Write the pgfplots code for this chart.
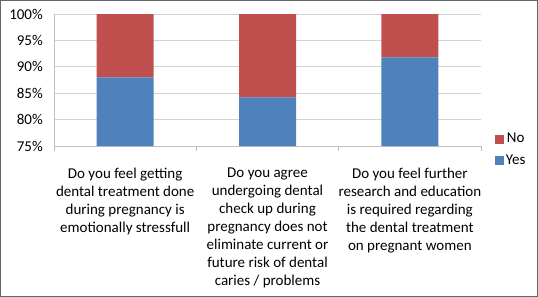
\documentclass[border=0pt]{standalone}
\usepackage{pgfplots}
\pgfplotsset{compat=1.18}
\usepackage{fontspec}
\setmainfont{Carlito}
\definecolor{cblue}{HTML}{4F81BD}
\definecolor{cred}{HTML}{C0504D}
\begin{document}
\fontsize{15}{18}\selectfont
\begin{tikzpicture}
\begin{axis}[
  scale only axis, width=427pt, height=132pt,
  anchor=south west, at={(0pt,0pt)},
  ybar stacked, bar width=57pt,
  xmin=-0.5, xmax=2.5, ymin=75, ymax=100,
  ytick={75,80,...,100},
  yticklabel={\pgfmathprintnumber{\tick}\%},
  /pgf/number format/assume math mode=true,
  xtick={0,1,2},
  xticklabels={{Do you feel getting\\dental treatment done\\during pregnancy is\\emotionally stressfull},
               {Do you agree\\undergoing dental\\check up during\\pregnancy does not\\eliminate current or\\future risk of dental\\caries / problems},
               {Do you feel further\\research and education\\is required regarding\\the dental treatment\\on pregnant women}},
  xticklabel style={align=center, anchor=north, yshift=-17pt, font=\fontsize{15}{18}\selectfont},
  yticklabel style={font=\fontsize{15}{18}\selectfont, xshift=-6pt},
  extra x ticks={-0.5,0.5,1.5,2.5},
  extra x tick labels={},
  extra x tick style={major tick length=5pt, tick style={gray!50, line width=0.8pt}, tick align=outside, grid=none},
  major tick length=0pt,
  axis x line*=bottom, axis y line*=left,
  axis line style={gray!50, line width=0.8pt, -},
  ymajorgrids, grid style={gray!35, line width=0.8pt},
  reverse legend,
  legend style={draw=none, at={(1.025,-0.03)}, anchor=west, font=\fontsize{15}{18}\selectfont,
    row sep=6pt, fill=none},
  legend image code/.code={\fill[#1] (0pt,-4.5pt) rectangle (9pt,4.5pt);},
]
\addplot[fill=cblue, draw=none] coordinates {(0,88) (1,84.2) (2,91.8)};
\addlegendentry{Yes}
\addplot[fill=cred, draw=none] coordinates {(0,12) (1,15.8) (2,8.2)};
\addlegendentry{No}
\end{axis}
\pgfresetboundingbox
\draw[gray!80!black, line width=1.5pt] (-53.25pt,-150.25pt) rectangle (483.25pt,145.25pt);
\end{tikzpicture}
\end{document}
